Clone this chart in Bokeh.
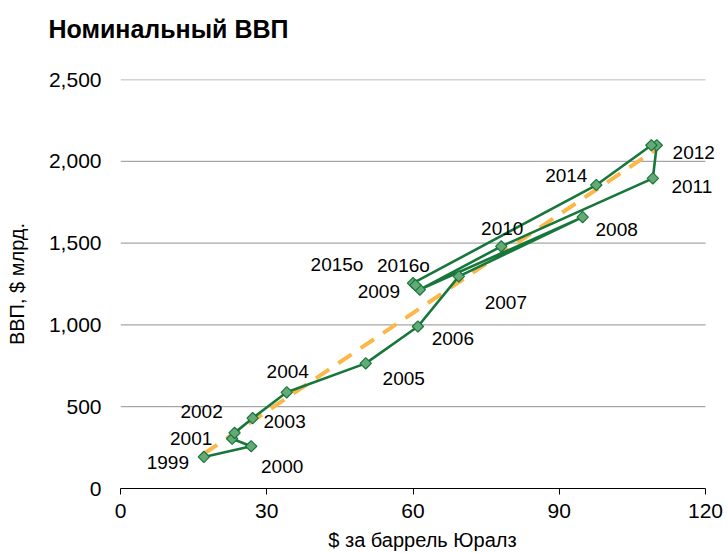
import numpy as np
from bokeh.plotting import figure
from bokeh.models import (ColumnDataSource, NumeralTickFormatter, FixedTicker, Range1d,
                          LabelSet)
from bokeh.core.properties import value
from bokeh.embed import file_html
from bokeh.resources import INLINE

# ---- data ----
years = ["1999", "2000", "2001", "2002", "2003", "2004", "2005", "2006", "2007",
         "2008", "2009", "2010", "2011", "2012", "2013", "2014", "2015о", "2016о"]
urals = [17.1, 26.8, 22.9, 23.4, 27.1, 34.1, 50.3, 61.0, 69.4,
         94.8, 61.4, 78.1, 109.2, 110.0, 108.9, 97.6, 60.0, 60.5]
gdp = [193, 258, 304, 340, 430, 588, 765, 990, 1297,
       1659, 1216, 1480, 1896, 2098, 2098, 1855, 1255, 1243]
point_labels = ["1999", "2000", "2001", "2002", "2003", "2004", "2005", "2006", "2007",
                "2008", "2009", "2010", "2011", "2012", "", "2014", "2015о", "2016о"]
x_ticks = [0, 30, 60, 90, 120]
y_ticks = [0, 500, 1000, 1500, 2000, 2500]

# label pixel offsets (style); dy positive = downwards
lab_dx = [-36, 31, -41, -33, 32, 1, 38, 35, 47, 34, -41, 1, 39, 37, 0, -30, -76, -12]
lab_dy = [6, 20, 0, -21, 3, -21, 15, 12, 26, 12, 2, -18, 8, 7, 0, -10, -19, -20]

FONT = "Liberation Sans"
GREEN = "#17773a"
FILL = "#66a978"
ORANGE = "#fbb748"

W, H = 728, 553
PX_PER_UNIT = 585 / 120          # frame scale: 120 units over 585 px
EXTRA = (W - 4 - 120 - 585) / PX_PER_UNIT   # room right of the axis for labels

p = figure(width=W, height=H, output_backend="svg", toolbar_location=None,
           x_range=Range1d(x_ticks[0], x_ticks[-1] + EXTRA),
           y_range=Range1d(y_ticks[0], y_ticks[-1]),
           min_border_left=120, min_border_right=4, min_border_top=79,
           min_border_bottom=63)
p.outline_line_color = None
p.background_fill_color = "white"

# title (an empty second line lifts it towards the top edge)
p.title.text = "Номинальный ВВП\n"
p.title.text_font = FONT
p.title.text_font_size = "25px"
p.title.text_font_style = "bold"
p.title.text_color = "black"
p.title.align = "left"
p.title.offset = -72
p.title.standoff = 18

# axes
p.xaxis.ticker = FixedTicker(ticks=x_ticks)
p.xaxis.bounds = (x_ticks[0], x_ticks[-1])
p.yaxis.ticker = FixedTicker(ticks=y_ticks)
p.yaxis.formatter = NumeralTickFormatter(format="0,0")
for ax in (p.xaxis, p.yaxis):
    ax.major_label_text_font = FONT
    ax.major_label_text_font_size = "21px"
    ax.major_label_text_color = "black"
    ax.axis_label_text_font = FONT
    ax.axis_label_text_font_size = "20px"
    ax.axis_label_text_font_style = "normal"
    ax.axis_label_text_color = "black"
    ax.minor_tick_line_color = None

p.xaxis.axis_label = "$ за баррель Юралз"
p.xaxis.axis_line_color = "black"
p.xaxis.major_tick_line_color = "black"
p.xaxis.major_tick_out = 6
p.xaxis.major_tick_in = 0
p.xaxis.major_label_standoff = 9
p.xaxis.axis_label_standoff = 8

p.yaxis.axis_label = "ВВП, $ млрд."
p.yaxis.axis_line_color = None
p.yaxis.major_tick_line_color = None
p.yaxis.major_tick_out = 0
p.yaxis.major_tick_in = 0
p.yaxis.major_label_standoff = 19
p.yaxis.axis_label_standoff = 18

p.xgrid.grid_line_color = None
p.ygrid.grid_line_color = None

# horizontal gridlines limited to the axis extent
gy = y_ticks[1:]
p.segment(x0=[x_ticks[0]] * len(gy), x1=[x_ticks[-1]] * len(gy), y0=gy, y1=gy,
          line_color="#a6a6a6", line_width=1.3, level="underlay")

src = ColumnDataSource(dict(x=urals, y=gdp, lab=point_labels,
                            dx=lab_dx, dy=[-d for d in lab_dy]))

# trend line (least squares fit of the data)
k, b = np.polyfit(np.array(urals), np.array(gdp), 1)
tx = [min(urals), max(urals)]
p.line(tx, [k * t + b for t in tx], line_color=ORANGE, line_width=4,
       line_dash="16 11")

p.line("x", "y", source=src, line_color=GREEN, line_width=2.6)
p.scatter("x", "y", source=src, marker="square", size=8, angle=np.pi / 4,
          fill_color=FILL, line_color=GREEN, line_width=1.2)

p.add_layout(LabelSet(x="x", y="y", text="lab", source=src,
                      x_offset="dx", y_offset="dy",
                      text_align="center", text_baseline="middle",
                      text_font=value(FONT), text_font_size=value("19px"),
                      text_color="black"))

open("out.html", "w").write(file_html(p, INLINE))
